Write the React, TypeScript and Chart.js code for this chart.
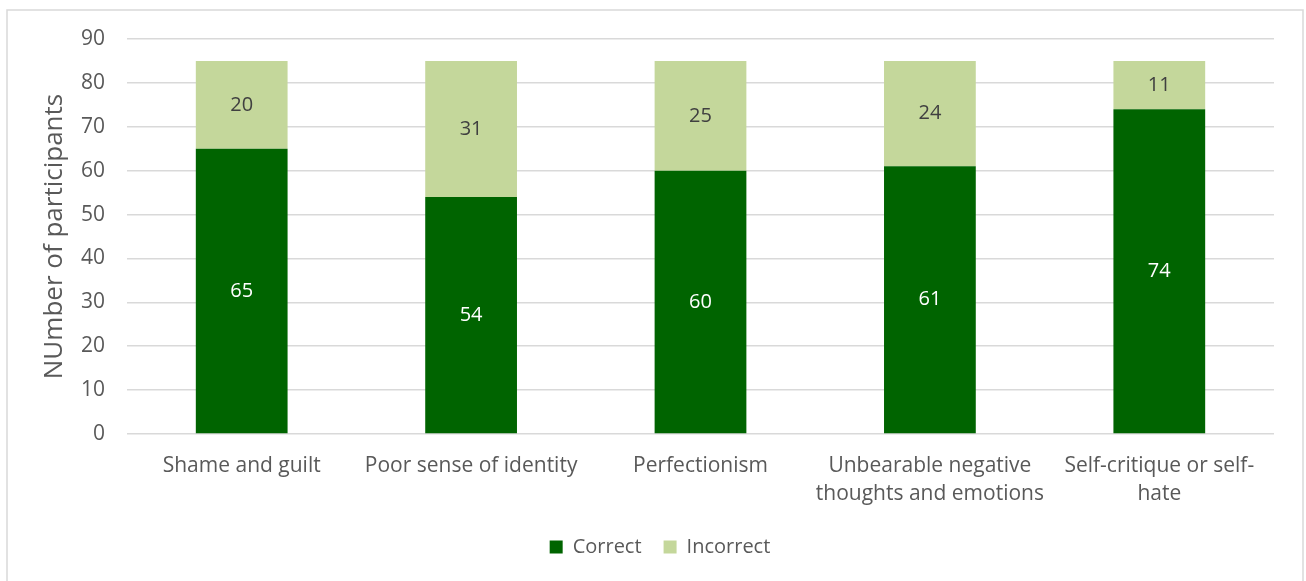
import React, { useEffect, useRef } from "react";
import { Chart, registerables } from "chart.js";

Chart.register(...registerables);

const categories: (string | string[])[] = [
  "Shame and guilt",
  "Poor sense of identity",
  "Perfectionism",
  ["Unbearable negative", "thoughts and emotions"],
  ["Self-critique or self-", "hate"],
];
const correctValues = [65, 54, 60, 61, 74];
const incorrectValues = [20, 31, 25, 24, 11];
const seriesNames = ["Correct", "Incorrect"];
const seriesColors = ["#006400", "#c4d79b"];
const labelColors = ["#ffffff", "#404040"];
const yMin = 0;
const yMax = 90;
const yStep = 10;
const yTitle = "NUmber of participants";

const FONT = "'Open Sans', 'DejaVu Sans', sans-serif";
const TEXT = "#595959";

const dataLabelPlugin = {
  id: "dataLabels",
  afterDatasetsDraw(chart: any) {
    const ctx = chart.ctx;
    ctx.save();
    ctx.font = `20px ${FONT}`;
    ctx.textAlign = "center";
    ctx.textBaseline = "middle";
    chart.data.datasets.forEach((ds: any, i: number) => {
      const meta = chart.getDatasetMeta(i);
      meta.data.forEach((el: any, j: number) => {
        ctx.fillStyle = labelColors[i];
        const y = (el.y + el.base) / 2;
        ctx.fillText(String(ds.data[j]), el.x, y);
      });
    });
    ctx.restore();
  },
};

const borderPlugin = {
  id: "outerBorder",
  beforeDraw(chart: any) {
    const ctx = chart.ctx;
    ctx.save();
    ctx.fillStyle = "#ffffff";
    ctx.fillRect(0, 0, chart.width, chart.height);
    ctx.strokeStyle = "#d9d9d9";
    ctx.lineWidth = 1.5;
    ctx.strokeRect(7, 10, 1296, 600);
    ctx.restore();
  },
};

export default function App() {
  const ref = useRef<HTMLCanvasElement | null>(null);
  useEffect(() => {
    if (!ref.current) return;
    const chart = new Chart(ref.current, {
      type: "bar",
      data: {
        labels: categories,
        datasets: [
          {
            label: seriesNames[0],
            data: correctValues,
            backgroundColor: seriesColors[0],
            barPercentage: 0.4,
            categoryPercentage: 1,
          },
          {
            label: seriesNames[1],
            data: incorrectValues,
            backgroundColor: seriesColors[1],
            barPercentage: 0.4,
            categoryPercentage: 1,
          },
        ],
      },
      options: {
        animation: false,
        responsive: false,
        devicePixelRatio: 1,
        layout: { padding: { top: 39, left: 46, right: 32, bottom: 14 } },
        plugins: {
          tooltip: { enabled: false },
          legend: {
            position: "bottom",
            labels: {
              boxWidth: 13,
              boxHeight: 13,
              padding: 22,
              color: TEXT,
              font: { family: FONT, size: 20 },
            },
          },
        },
        scales: {
          x: {
            stacked: true,
            grid: { display: false, drawTicks: false },
            border: { display: false },
            ticks: {
              color: TEXT,
              padding: 18,
              maxRotation: 0,
              autoSkip: false,
              font: { family: FONT, size: 21, lineHeight: 1.33 },
            },
            afterFit(scale: any) {
              scale.height = 81;
            },
          },
          y: {
            stacked: true,
            min: yMin,
            max: yMax,
            ticks: {
              stepSize: yStep,
              color: TEXT,
              padding: 22,
              font: { family: FONT, size: 21 },
            },
            grid: { color: "#d9d9d9", lineWidth: 1.5, drawTicks: false },
            border: { display: false },
            title: {
              display: true,
              text: yTitle,
              color: TEXT,
              font: { family: FONT, size: 26 },
              padding: { top: -6.6, bottom: 0 },
            },
            afterFit(scale: any) {
              scale.width = 81;
            },
          },
        },
      },
      plugins: [borderPlugin, dataLabelPlugin],
    } as any);
    return () => chart.destroy();
  }, []);
  return (
    <canvas
      ref={ref}
      width={1306}
      height={581}
      style={{ position: "fixed", left: 0, top: 0, width: 1306, height: 581 }}
    />
  );
}
